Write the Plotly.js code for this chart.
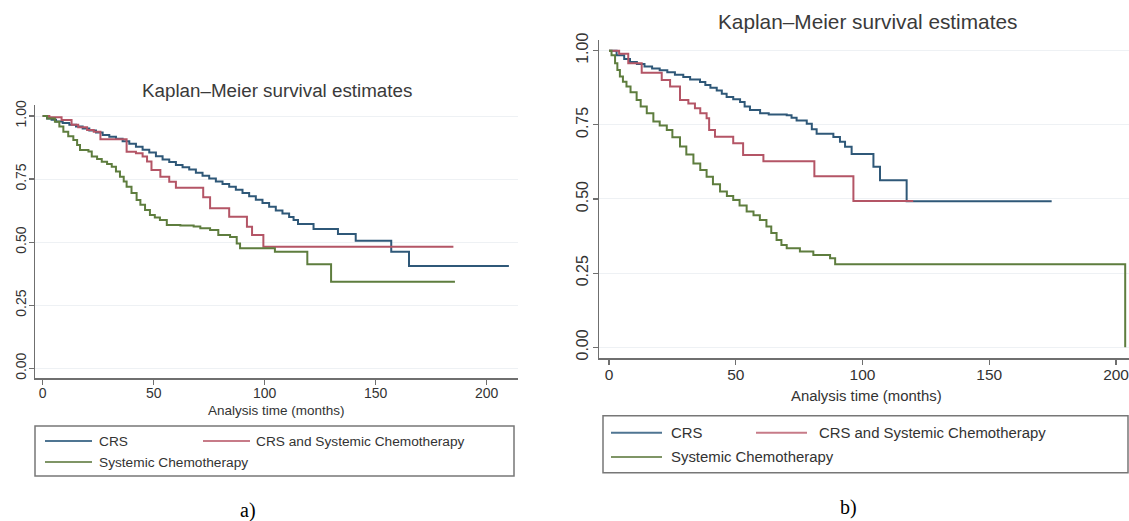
<!DOCTYPE html>
<html>
<head>
<meta charset="utf-8">
<script src="https://cdn.plot.ly/plotly-3.0.1.min.js"></script>
<style>html,body{margin:0;padding:0;background:#fff;}#chart{width:1129px;height:521px;}</style>
</head>
<body>
<div id="chart"></div>
<script>
// ---------- Data ----------
const seriesNames = ["CRS", "CRS and Systemic Chemotherapy", "Systemic Chemotherapy"];
const xTicks = [0, 50, 100, 150, 200];
const yTicks = [0, 0.25, 0.5, 0.75, 1];
const yTickText = ["0.00", "0.25", "0.50", "0.75", "1.00"];

// Panel a)
const aCrsT = [0,2,4,6,9,12,15,18,21,24,27,30,33,36,39,42,45,48,51,54,57,60,63,66,69,72,75,78,81,84,87,90,93,96,99,102,105,108,111,113,115,122,133,141,157,165,210];
const aCrsS = [1.0,0.99,0.985,0.978,0.972,0.965,0.958,0.95,0.943,0.935,0.925,0.918,0.91,0.9,0.89,0.878,0.866,0.855,0.84,0.828,0.818,0.806,0.797,0.788,0.775,0.763,0.752,0.74,0.73,0.72,0.708,0.695,0.682,0.668,0.655,0.64,0.625,0.614,0.6,0.588,0.572,0.552,0.532,0.506,0.462,0.405,0.405];
const aBothT = [0,3,8.5,13,16,20,23,26,37.8,42,45,47,49,53,57,60,72.3,75.4,84,92,94.3,99.4,185];
const aBothS = [1.0,0.995,0.984,0.965,0.955,0.945,0.938,0.908,0.858,0.852,0.839,0.82,0.786,0.759,0.739,0.716,0.678,0.634,0.601,0.561,0.528,0.482,0.482];
const aChemoT = [0,2,5.5,7.5,9.3,11.5,13.8,15.5,16.8,20.6,22.1,24.5,26.6,29,31.1,33,34.8,36.5,37.8,40,42.3,44,46.1,48.3,50.5,52.8,55.9,62,68,71,75.4,79.1,84.4,87.4,88.9,104.6,119.2,129.9,185.7];
const aChemoS = [1.0,0.99,0.977,0.958,0.938,0.92,0.905,0.885,0.865,0.859,0.839,0.83,0.819,0.81,0.799,0.78,0.759,0.74,0.72,0.695,0.667,0.648,0.627,0.608,0.598,0.588,0.568,0.566,0.562,0.555,0.548,0.528,0.52,0.495,0.476,0.462,0.412,0.343,0.343];

// Panel b)
const bCrsT = [0,3,6,8.3,11,14,17,20,23,26,29.3,32,35.9,38,40,42.5,44.5,46.4,49,51.7,53.5,55.6,59.6,63,70.1,72,74,78,80,81.9,88.5,91.1,93.1,95.7,104.3,106.9,117.4,174.6];
const bCrsS = [1.0,0.985,0.972,0.962,0.955,0.947,0.94,0.934,0.927,0.919,0.911,0.903,0.894,0.884,0.875,0.866,0.855,0.844,0.836,0.827,0.812,0.8,0.789,0.785,0.782,0.774,0.765,0.754,0.735,0.72,0.709,0.693,0.676,0.652,0.609,0.563,0.492,0.492];
const bBothT = [0,4,7.6,12.9,20.8,24.1,28,31.3,33.9,36,38.5,39.5,41.8,49,52.9,60.9,81,96.4,120];
const bBothS = [1.0,0.99,0.958,0.926,0.901,0.879,0.834,0.822,0.806,0.789,0.772,0.733,0.71,0.688,0.648,0.627,0.577,0.493,0.493];
const bChemoT = [0,1,2.4,3.3,4.3,5.5,6.9,8.5,10.9,12.5,14.9,17.5,20,22.8,25,28,30.5,33.3,36,38.5,41,43.8,46.5,49,51.5,54.3,57,59.5,62.1,64,66.1,68,70.1,75.3,80.6,87.2,89.2,203.6];
const bChemoS = [1.0,0.985,0.958,0.935,0.913,0.895,0.879,0.86,0.834,0.812,0.789,0.761,0.748,0.733,0.708,0.677,0.65,0.62,0.598,0.575,0.55,0.525,0.51,0.497,0.478,0.458,0.445,0.429,0.407,0.385,0.362,0.345,0.334,0.323,0.311,0.3,0.28,0];

// ---------- Styling ----------
const colors = ["#2f5878", "#b45566", "#5e7d3e"];
const legendColors = ["#4f7592", "#c77b88", "#7f9566"];
const W = 1129, H = 521;
const px = v => v / W;
const py = v => 1 - v / H;
const font = "Liberation Sans, Arial, sans-serif";

function trace(t, s, i, xa, ya) {
  return {x: t, y: s, type: "scatter", mode: "lines", line: {shape: "hv", color: colors[i], width: 2},
          name: seriesNames[i], xaxis: xa, yaxis: ya, showlegend: false, hoverinfo: "skip"};
}
const data = [
  trace(aCrsT, aCrsS, 0, "x", "y"), trace(aBothT, aBothS, 1, "x", "y"), trace(aChemoT, aChemoS, 2, "x", "y"),
  trace(bCrsT, bCrsS, 0, "x2", "y2"), trace(bBothT, bBothS, 1, "x2", "y2"), trace(bChemoT, bChemoS, 2, "x2", "y2")
];

function xAxis(dom, range, anchor, fs, so) {
  return {domain: dom, range: range, anchor: anchor, tickvals: xTicks, ticks: "outside", ticklen: 5, tickwidth: 1.2,
          tickcolor: "#6f6f6f", showline: true, linecolor: "#6f6f6f", linewidth: 1.5, showgrid: false, zeroline: false,
          ticklabeloverflow: "allow", ticklabelstandoff: so,
          tickfont: {family: font, size: fs, color: "#333"}, fixedrange: true};
}
function yAxis(dom, range, anchor, fs, so) {
  return {domain: dom, range: range, anchor: anchor, tickvals: yTicks, ticktext: yTickText, tickangle: -90,
          ticks: "outside", ticklen: 5, tickwidth: 1.2, tickcolor: "#6f6f6f", showline: true, linecolor: "#6f6f6f",
          linewidth: 1.5, showgrid: true, gridcolor: "#eef1f4", gridwidth: 1, zeroline: false,
          ticklabeloverflow: "allow", ticklabelstandoff: so,
          tickfont: {family: font, size: fs, color: "#333"}, fixedrange: true};
}

const layout = {
  width: W, height: H, margin: {l: 0, r: 0, t: 0, b: 0}, paper_bgcolor: "#fff", plot_bgcolor: "#fff",
  showlegend: false,
  xaxis: xAxis([px(35), px(518)], [-3.47, 214.1], "y", 14, -4),
  yaxis: yAxis([py(378.3), py(105)], [-0.0396, 1.0436], "x", 14, -3),
  xaxis2: xAxis([px(599), 1], [-3.94, 205.1], "y2", 15.5, -3),
  yaxis2: yAxis([py(358.3), py(40)], [-0.0371, 1.036], "x2", 16, -2),
  shapes: [], annotations: []
};

function ann(text, x, y, size, color, fam, anchor) {
  layout.annotations.push({text: text, x: px(x), y: py(y), xref: "paper", yref: "paper", showarrow: false,
    xanchor: anchor || "center", yanchor: "middle", font: {family: fam || font, size: size, color: color || "#333"}});
}
// titles
ann("Kaplan–Meier survival estimates", 277, 90, 18.8, "#3a3a3a");
ann("Kaplan–Meier survival estimates", 867, 22, 20.8, "#3a3a3a");
ann("Analysis time (months)", 276.5, 410, 13.5, "#333");
ann("Analysis time (months)", 866.5, 396, 14.9, "#333");
ann("a)", 248, 510, 20, "#000", "Liberation Serif, Times New Roman, serif");
ann("b)", 848, 507, 20, "#000", "Liberation Serif, Times New Roman, serif");

function legendBox(x0, y0, x1, y1, rows, items, fs) {
  layout.shapes.push({type: "rect", xref: "paper", yref: "paper", x0: px(x0), x1: px(x1), y0: py(y1), y1: py(y0),
                      line: {color: "#777", width: 1.5}, fillcolor: "rgba(0,0,0,0)"});
  items.forEach(it => {
    layout.shapes.push({type: "line", xref: "paper", yref: "paper", x0: px(it.l0), x1: px(it.l1),
      y0: py(rows[it.r]), y1: py(rows[it.r]), line: {color: legendColors[it.i], width: 2}});
    ann(seriesNames[it.i], it.tx, rows[it.r], fs, "#333", font, "left");
  });
}
legendBox(35, 426, 514, 476, [441, 462], [
  {i: 0, r: 0, l0: 45, l1: 92, tx: 97},
  {i: 1, r: 0, l0: 203, l1: 250, tx: 254},
  {i: 2, r: 1, l0: 45, l1: 92, tx: 97}
], 13.7);
legendBox(603, 415.7, 1128, 472.7, [432.7, 457], [
  {i: 0, r: 0, l0: 611, l1: 662, tx: 669},
  {i: 1, r: 0, l0: 756, l1: 807, tx: 817},
  {i: 2, r: 1, l0: 611, l1: 662, tx: 669}
], 14.9);

Plotly.newPlot("chart", data, layout, {staticPlot: true, displayModeBar: false});
</script>
</body>
</html>
